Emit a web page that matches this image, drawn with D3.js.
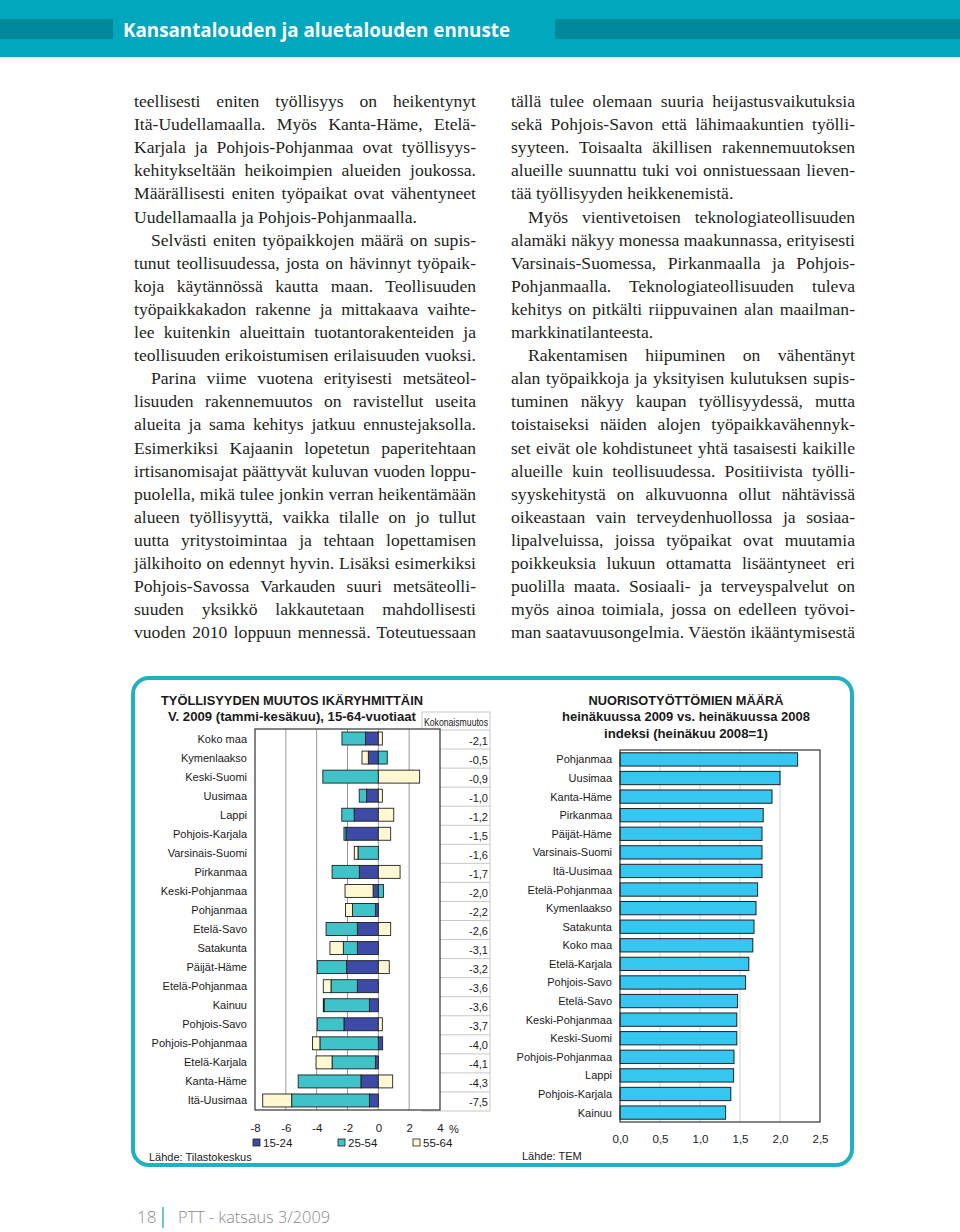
<!DOCTYPE html>
<html>
<head>
<meta charset="utf-8">
<script src="https://cdn.jsdelivr.net/npm/d3@7"></script>
<style>
  body { margin: 0; background: #fff; }
  svg { display: block; }
</style>
</head>
<body>
<script>
const width = 960;
const height = 1232;

// left chart: employment change by age group
const regionsLeft = ['Koko maa', 'Kymenlaakso', 'Keski-Suomi', 'Uusimaa', 'Lappi', 'Pohjois-Karjala',
  'Varsinais-Suomi', 'Pirkanmaa', 'Keski-Pohjanmaa', 'Pohjanmaa', 'Etelä-Savo', 'Satakunta',
  'Päijät-Häme', 'Etelä-Pohjanmaa', 'Kainuu', 'Pohjois-Savo', 'Pohjois-Pohjanmaa', 'Etelä-Karjala',
  'Kanta-Häme', 'Itä-Uusimaa'];
const ageGroups = ['15-24', '25-54', '55-64'];
const age1524 = [-0.83, -0.65, 0, -0.76, -1.57, -2.1, 0, -1.23, -0.34, -0.19, -1.36, -1.36, -2.06, -1.36, -0.58, -2.23, 0.28, -0.19, -1.13, -0.58];
const age2554 = [-1.53, 0.58, -3.6, -0.48, -0.8, -0.13, -1.32, -1.77, 0.33, -1.49, -2.03, -0.91, -1.9, -1.71, -2.94, -1.73, -3.79, -2.81, -4.07, -5.04];
const age5564 = [0.26, -0.41, 2.68, 0.26, 1.0, 0.8, -0.24, 1.41, -1.82, -0.45, 0.8, -0.87, 0.71, -0.5, -0.05, 0.26, -0.48, -1.04, 0.93, -1.88];
const totalChange = [-2.1, -0.5, -0.9, -1.0, -1.2, -1.5, -1.6, -1.7, -2.0, -2.2, -2.6, -3.1, -3.2, -3.6, -3.6, -3.7, -4.0, -4.1, -4.3, -7.5];
const leftTicks = [-8, -6, -4, -2, 0, 2, 4];

// right chart: youth unemployment index
const regionsRight = ['Pohjanmaa', 'Uusimaa', 'Kanta-Häme', 'Pirkanmaa', 'Päijät-Häme', 'Varsinais-Suomi',
  'Itä-Uusimaa', 'Etelä-Pohjanmaa', 'Kymenlaakso', 'Satakunta', 'Koko maa', 'Etelä-Karjala',
  'Pohjois-Savo', 'Etelä-Savo', 'Keski-Pohjanmaa', 'Keski-Suomi', 'Pohjois-Pohjanmaa', 'Lappi',
  'Pohjois-Karjala', 'Kainuu'];
const youthIndex = [2.22, 2.0, 1.9, 1.79, 1.775, 1.775, 1.775, 1.72, 1.7, 1.675, 1.66, 1.61, 1.57, 1.47, 1.46, 1.46, 1.425, 1.42, 1.385, 1.32];
const rightTicks = [0, 0.5, 1, 1.5, 2, 2.5];

const leftColumn = [
  'teellisesti eniten työllisyys on heikentynyt',
  'Itä-Uudellamaalla. Myös Kanta-Häme, Etelä-',
  'Karjala ja Pohjois-Pohjanmaa ovat työllisyys-',
  'kehitykseltään heikoimpien alueiden joukossa.',
  'Määrällisesti eniten työpaikat ovat vähentyneet',
  'Uudellamaalla ja Pohjois-Pohjanmaalla.',
  'Selvästi eniten työpaikkojen määrä on supis-',
  'tunut teollisuudessa, josta on hävinnyt työpaik-',
  'koja käytännössä kautta maan. Teollisuuden',
  'työpaikkakadon rakenne ja mittakaava vaihte-',
  'lee kuitenkin alueittain tuotantorakenteiden ja',
  'teollisuuden erikoistumisen erilaisuuden vuoksi.',
  'Parina viime vuotena erityisesti metsäteol-',
  'lisuuden rakennemuutos on ravistellut useita',
  'alueita ja sama kehitys jatkuu ennustejaksolla.',
  'Esimerkiksi Kajaanin lopetetun paperitehtaan',
  'irtisanomisajat päättyvät kuluvan vuoden loppu-',
  'puolella, mikä tulee jonkin verran heikentämään',
  'alueen työllisyyttä, vaikka tilalle on jo tullut',
  'uutta yritystoimintaa ja tehtaan lopettamisen',
  'jälkihoito on edennyt hyvin. Lisäksi esimerkiksi',
  'Pohjois-Savossa Varkauden suuri metsäteolli-',
  'suuden yksikkö lakkautetaan mahdollisesti',
  'vuoden 2010 loppuun mennessä. Toteutuessaan'
];
const leftIndent = [6, 12];
const leftRagged = [5];

const rightColumn = [
  'tällä tulee olemaan suuria heijastusvaikutuksia',
  'sekä Pohjois-Savon että lähimaakuntien työlli-',
  'syyteen. Toisaalta äkillisen rakennemuutoksen',
  'alueille suunnattu tuki voi onnistuessaan lieven-',
  'tää työllisyyden heikkenemistä.',
  'Myös vientivetoisen teknologiateollisuuden',
  'alamäki näkyy monessa maakunnassa, erityisesti',
  'Varsinais-Suomessa, Pirkanmaalla ja Pohjois-',
  'Pohjanmaalla. Teknologiateollisuuden tuleva',
  'kehitys on pitkälti riippuvainen alan maailman-',
  'markkinatilanteesta.',
  'Rakentamisen hiipuminen on vähentänyt',
  'alan työpaikkoja ja yksityisen kulutuksen supis-',
  'tuminen näkyy kaupan työllisyydessä, mutta',
  'toistaiseksi näiden alojen työpaikkavähennyk-',
  'set eivät ole kohdistuneet yhtä tasaisesti kaikille',
  'alueille kuin teollisuudessa. Positiivista työlli-',
  'syyskehitystä on alkuvuonna ollut nähtävissä',
  'oikeastaan vain terveydenhuollossa ja sosiaa-',
  'lipalveluissa, joissa työpaikat ovat muutamia',
  'poikkeuksia lukuun ottamatta lisääntyneet eri',
  'puolilla maata. Sosiaali- ja terveyspalvelut on',
  'myös ainoa toimiala, jossa on edelleen työvoi-',
  'man saatavuusongelmia. Väestön ikääntymisestä'
];
const rightIndent = [5, 11];
const rightRagged = [4, 10];

const sans = '"Liberation Sans", Arial, sans-serif';
const serif = '"Liberation Serif", "Times New Roman", serif';
const colors = { '15-24': '#3d4aa6', '25-54': '#3fc3c9', '55-64': '#fff8d2' };

function main() {
  const svg = d3.select('body').append('svg').attr('width', width).attr('height', height);
  svg.append('rect').attr('width', width).attr('height', height).attr('fill', '#fff');

  drawHeader(svg);
  drawColumn(svg, leftColumn, 134, 476, leftIndent, leftRagged);
  drawColumn(svg, rightColumn, 511, 855, rightIndent, rightRagged);
  drawFooter(svg);

  svg.append('rect')
    .attr('x', 133).attr('y', 678).attr('width', 719).attr('height', 487)
    .attr('rx', 16)
    .attr('fill', 'none').attr('stroke', '#20b0bf').attr('stroke-width', 4);

  drawLeftChart(svg);
  drawRightChart(svg);
}

function drawHeader(svg) {
  svg.append('rect').attr('x', 0).attr('y', 0).attr('width', width).attr('height', 57).attr('fill', '#00a7bd');
  svg.append('rect').attr('x', 0).attr('y', 19).attr('width', 113).attr('height', 20).attr('fill', '#00889b');
  svg.append('rect').attr('x', 555).attr('y', 19).attr('width', 405).attr('height', 20).attr('fill', '#00889b');
  svg.append('text')
    .attr('x', 123).attr('y', 37)
    .attr('font-family', '"Open Sans", sans-serif')
    .attr('font-weight', 700)
    .attr('font-size', 19)
    .attr('fill', '#fff')
    .attr('textLength', 387).attr('lengthAdjust', 'spacingAndGlyphs')
    .text('Kansantalouden ja aluetalouden ennuste');
}

function drawColumn(svg, lines, x0, x1, indent, ragged) {
  const g = svg.append('g')
    .attr('font-family', serif)
    .attr('font-size', 17.6)
    .attr('fill', '#231f20');

  lines.forEach((line, i) => {
    const x = indent.includes(i) ? x0 + 17 : x0;
    const t = g.append('text').attr('x', x).attr('y', 107 + i * 23.1).text(line);
    if (ragged.includes(i)) return;
    const target = x1 - x;
    const natural = t.node().getComputedTextLength();
    const gaps = line.split(' ').length - 1;
    if (natural > target || gaps === 0) {
      t.attr('textLength', target).attr('lengthAdjust', 'spacingAndGlyphs');
    } else {
      t.attr('word-spacing', (target - natural) / gaps);
    }
  });
}

function drawFooter(svg) {
  const g = svg.append('g').attr('font-family', '"Open Sans", sans-serif').attr('font-size', 17).attr('fill', '#8a8a8a');
  g.append('text').attr('x', 137).attr('y', 1223).attr('font-weight', 300).text('18');
  svg.append('line').attr('x1', 163).attr('x2', 163).attr('y1', 1207).attr('y2', 1228)
    .attr('stroke', '#3fb5c0').attr('stroke-width', 1.5);
  g.append('text').attr('x', 178).attr('y', 1223).attr('font-weight', 300)
    .attr('textLength', 152).attr('lengthAdjust', 'spacingAndGlyphs')
    .text('PTT - katsaus 3/2009');
}

function drawLeftChart(svg) {
  const g = svg.append('g').attr('font-family', sans).attr('fill', '#1a1a1a');

  g.append('text').attr('x', 161).attr('y', 705).attr('font-size', 12.5).attr('font-weight', 700)
    .attr('textLength', 262).attr('lengthAdjust', 'spacingAndGlyphs')
    .text('TYÖLLISYYDEN MUUTOS IKÄRYHMITTÄIN');
  g.append('text').attr('x', 168).attr('y', 721).attr('font-size', 12.5).attr('font-weight', 700)
    .attr('textLength', 248).attr('lengthAdjust', 'spacingAndGlyphs')
    .text('V. 2009 (tammi-kesäkuu), 15-64-vuotiaat');

  const x = d3.scaleLinear().domain([-8, 4]).range([255, 440]);
  const y = d3.scaleBand().domain(regionsLeft).range([729, 1110]).paddingInner(0.32).paddingOuter(0.16);
  const rowY = d3.scaleBand().domain(regionsLeft).range([730, 1111]);

  // table of total change
  const table = g.append('g');
  table.append('rect').attr('x', 422).attr('y', 712).attr('width', 68).attr('height', 399)
    .attr('fill', '#fff').attr('stroke', '#c8c8c8');
  table.selectAll('line.row').data(regionsLeft).enter().append('line')
    .attr('x1', 422).attr('x2', 490)
    .attr('y1', d => rowY(d)).attr('y2', d => rowY(d))
    .attr('stroke', '#c8c8c8');
  table.append('text').attr('x', 424).attr('y', 726).attr('font-size', 10)
    .attr('textLength', 64).attr('lengthAdjust', 'spacingAndGlyphs')
    .text('Kokonaismuutos');
  table.selectAll('text.val').data(totalChange).enter().append('text')
    .attr('x', 488)
    .attr('y', (d, i) => rowY(regionsLeft[i]) + rowY.bandwidth() / 2 + 5)
    .attr('text-anchor', 'end').attr('font-size', 11)
    .text(d => d.toFixed(1).replace('.', ','));

  // plot area
  g.append('rect').attr('x', 255).attr('y', 729).attr('width', 185).attr('height', 381).attr('fill', '#fff');
  g.selectAll('line.grid').data(leftTicks.slice(1, -1)).enter().append('line')
    .attr('x1', d => x(d)).attr('x2', d => x(d))
    .attr('y1', 729).attr('y2', 1110)
    .attr('stroke', '#9a9a9a');

  const series = [age1524, age2554, age5564];
  const segments = [];
  regionsLeft.forEach((r, i) => {
    let pos = 0;
    let neg = 0;
    series.forEach((s, k) => {
      const v = s[i];
      if (v === 0) return;
      let a, b;
      if (v > 0) { a = pos; b = pos + v; pos = b; } else { a = neg + v; b = neg; neg = a; }
      segments.push({ region: r, group: ageGroups[k], a, b });
    });
  });

  g.selectAll('rect.seg').data(segments).enter().append('rect')
    .attr('x', d => x(d.a))
    .attr('y', d => y(d.region))
    .attr('width', d => x(d.b) - x(d.a))
    .attr('height', y.bandwidth())
    .attr('fill', d => colors[d.group])
    .attr('stroke', '#1f1f1f').attr('stroke-width', 0.9);

  g.append('rect').attr('x', 255).attr('y', 729).attr('width', 185).attr('height', 381)
    .attr('fill', 'none').attr('stroke', '#333').attr('stroke-width', 1.2);

  g.selectAll('text.cat').data(regionsLeft).enter().append('text')
    .attr('x', 247)
    .attr('y', d => y(d) + y.bandwidth() / 2 + 4)
    .attr('text-anchor', 'end').attr('font-size', 11)
    .text(d => d);

  const axis = d3.axisBottom(x).tickValues(leftTicks).tickSize(0).tickPadding(0).tickFormat(d => String(d));
  const ax = g.append('g').attr('transform', 'translate(0,1132)').call(axis);
  ax.select('.domain').remove();
  ax.selectAll('text').attr('font-family', sans).attr('font-size', 11.5).attr('fill', '#1a1a1a').attr('dy', 0);
  g.append('text').attr('x', 449).attr('y', 1133).attr('font-size', 11).text('%');

  const legendX = [253, 338, 413];
  const legend = g.selectAll('g.leg').data(ageGroups).enter().append('g')
    .attr('transform', (d, i) => `translate(${legendX[i]},1139)`);
  legend.append('rect').attr('width', 7).attr('height', 7)
    .attr('fill', d => colors[d]).attr('stroke', '#1f1f1f').attr('stroke-width', 0.8);
  legend.append('text').attr('x', 10).attr('y', 8).attr('font-size', 11.5).text(d => d);

  g.append('text').attr('x', 149).attr('y', 1161).attr('font-size', 11).text('Lähde: Tilastokeskus');
}

function drawRightChart(svg) {
  const g = svg.append('g').attr('font-family', sans).attr('fill', '#1a1a1a');

  const titles = [
    { t: 'NUORISOTYÖTTÖMIEN MÄÄRÄ', y: 705, w: 195 },
    { t: 'heinäkuussa 2009 vs. heinäkuussa 2008', y: 721, w: 248 },
    { t: 'indeksi (heinäkuu 2008=1)', y: 738, w: 164 }
  ];
  g.selectAll('text.title').data(titles).enter().append('text')
    .attr('x', 686).attr('y', d => d.y)
    .attr('text-anchor', 'middle').attr('font-size', 12).attr('font-weight', 700)
    .attr('textLength', d => d.w).attr('lengthAdjust', 'spacingAndGlyphs')
    .text(d => d.t);

  const x = d3.scaleLinear().domain([0, 2.5]).range([620, 820]);
  const y = d3.scaleBand().domain(regionsRight).range([750, 1122]).paddingInner(0.285).paddingOuter(0.15);

  g.selectAll('line.grid').data(rightTicks.slice(1, -1)).enter().append('line')
    .attr('x1', d => x(d)).attr('x2', d => x(d))
    .attr('y1', 750).attr('y2', 1122)
    .attr('stroke', '#d0d0d0');

  g.selectAll('rect.bar').data(youthIndex).enter().append('rect')
    .attr('x', x(0))
    .attr('y', (d, i) => y(regionsRight[i]))
    .attr('width', d => x(d) - x(0))
    .attr('height', y.bandwidth())
    .attr('fill', '#35c6f1')
    .attr('stroke', '#1f1f1f').attr('stroke-width', 1);

  g.append('rect').attr('x', 620).attr('y', 750).attr('width', 200).attr('height', 372)
    .attr('fill', 'none').attr('stroke', '#333').attr('stroke-width', 1.2);

  g.selectAll('text.cat').data(regionsRight).enter().append('text')
    .attr('x', 612)
    .attr('y', d => y(d) + y.bandwidth() / 2 + 4)
    .attr('text-anchor', 'end').attr('font-size', 11)
    .text(d => d);

  const axis = d3.axisBottom(x).tickValues(rightTicks).tickSize(0).tickPadding(0)
    .tickFormat(d => d.toFixed(1).replace('.', ','));
  const ax = g.append('g').attr('transform', 'translate(0,1143)').call(axis);
  ax.select('.domain').remove();
  ax.selectAll('text').attr('font-family', sans).attr('font-size', 11.5).attr('fill', '#1a1a1a').attr('dy', 0);

  g.append('text').attr('x', 522).attr('y', 1160).attr('font-size', 11).text('Lähde: TEM');
}

main();
</script>
</body>
</html>
